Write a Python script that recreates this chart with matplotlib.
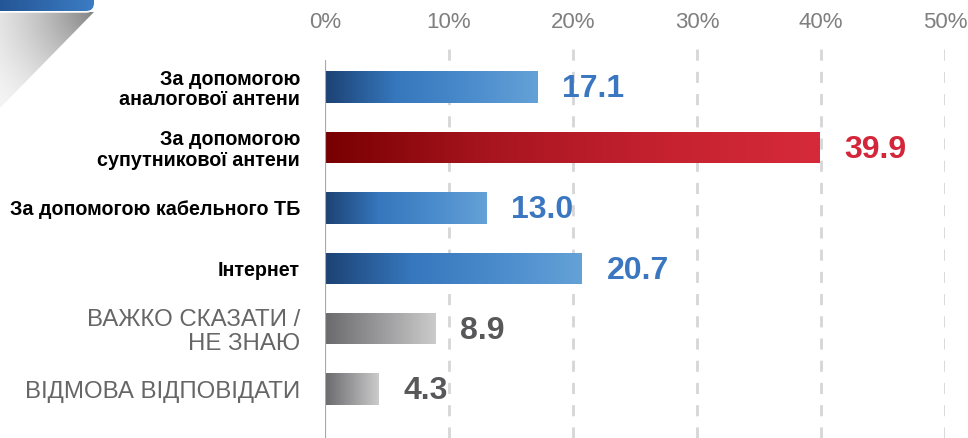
import numpy as np
import matplotlib
matplotlib.use("Agg")
import matplotlib.pyplot as plt
from matplotlib.colors import LinearSegmentedColormap
from matplotlib.patches import FancyBboxPatch, Polygon

# Data
labels = ["За допомогою\nаналогової антени",
          "За допомогою\nсупутникової антени",
          "За допомогою кабельного ТБ",
          "Інтернет",
          "ВАЖКО СКАЗАТИ /\nНЕ ЗНАЮ",
          "ВІДМОВА ВІДПОВІДАТИ"]
values = [17.1, 39.9, 13.0, 20.7, 8.9, 4.3]
groups = ["blue", "red", "blue", "blue", "gray", "gray"]
ticks = [0, 10, 20, 30, 40, 50]

plt.rcParams['font.family'] = ['Liberation Sans', 'DejaVu Sans']

cmaps = {
    "blue": LinearSegmentedColormap.from_list("b", ["#1c4274", "#3677bd", "#4a8bcc", "#64a1d7"]),
    "red": LinearSegmentedColormap.from_list("r", ["#780000", "#a8151f", "#c4212f", "#d62a3a"]),
    "gray": LinearSegmentedColormap.from_list("g", ["#6a6a6c", "#9a9a9c", "#cbcbcb"]),
}
value_colors = {"blue": "#3b77c0", "red": "#d3263a", "gray": "#58585a"}
# weight, colour, size
label_style = {"blue": ("bold", "black", 14.2), "red": ("bold", "black", 14.2),
               "gray": ("normal", "#666666", 17.3)}

fig = plt.figure(figsize=(9.68, 4.38), dpi=100)

# background decoration (folded ribbon in the corner)
bg = fig.add_axes([0, 0, 1, 1], zorder=0)
bg.set_xlim(0, 968)
bg.set_ylim(438, 0)
bg.axis("off")
yy, xx = np.mgrid[0:120, 0:120]
d = np.sqrt((xx - 95.0) ** 2 + (yy - 10.0) ** 2)
shade = np.clip(1 - d / 130.0, 0, 1)
img = np.ones((120, 120, 4))
img[..., :3] = 0.0
img[..., 3] = 0.05 + 0.45 * shade ** 1.5
sh = bg.imshow(img, extent=(0, 120, 120, 0), zorder=1)
tri = Polygon([(0, 12), (94, 12), (0, 108)], closed=True, transform=bg.transData)
sh.set_clip_path(tri)
rib = FancyBboxPatch((-30, -30), 124, 41, boxstyle="round,pad=0,rounding_size=8",
                     facecolor="#2f66aa", edgecolor="white", lw=2.5, zorder=2)
bg.add_patch(rib)
rg = bg.imshow(np.linspace(0, 1, 100).reshape(1, -1),
               cmap=LinearSegmentedColormap.from_list("rb", ["#1d4a86", "#3b7cc4"]),
               extent=(-30, 94, 11, -30), aspect="auto", zorder=3)
rg.set_clip_path(rib)

ax = fig.add_axes([325 / 968, 0, 620 / 968, 1 - 45 / 438], zorder=1)
ax.patch.set_alpha(0)
ypos = np.arange(len(values))
bars = ax.barh(ypos, values, height=0.52, color="none", zorder=2)
for b, v, g in zip(bars, values, groups):
    x0, y0 = b.get_x(), b.get_y()
    im = ax.imshow(np.linspace(0, 1, 256).reshape(1, -1), cmap=cmaps[g],
                   extent=(x0, x0 + b.get_width(), y0, y0 + b.get_height()),
                   aspect="auto", zorder=2)
    im.set_clip_path(b)
    ax.text(v + 2.0, b.get_y() + b.get_height() / 2 + 0.04, f"{v:.1f}", color=value_colors[g],
            fontsize=23, fontweight="bold", va="center", ha="left", zorder=3)

ax.set_xlim(0, 50)
ax.set_ylim(5.81, -0.695)
ax.set_aspect("auto")
ax.xaxis.tick_top()
ax.set_xticks(ticks)
ax.set_xticklabels([f"{t}%" for t in ticks], color="#7f7f7f", fontsize=16)
ax.tick_params(axis="x", length=0, pad=9)
ax.set_yticks(ypos)
ax.set_yticklabels(labels, linespacing=1.08)
ax.tick_params(axis="y", length=0, pad=18)
for t, g in zip(ax.get_yticklabels(), groups):
    t.set_fontweight(label_style[g][0])
    t.set_color(label_style[g][1])
    t.set_fontsize(label_style[g][2])
for t in ticks[1:]:
    ax.axvline(t, color="#d6d6d6", lw=2, ls=(0, (4, 4)), zorder=1)
ax.vlines(-0.1, -0.45, 5.81, color="#a8a8aa", lw=3, zorder=4)
for s in ax.spines.values():
    s.set_visible(False)

fig.savefig("out.png", dpi=100)
